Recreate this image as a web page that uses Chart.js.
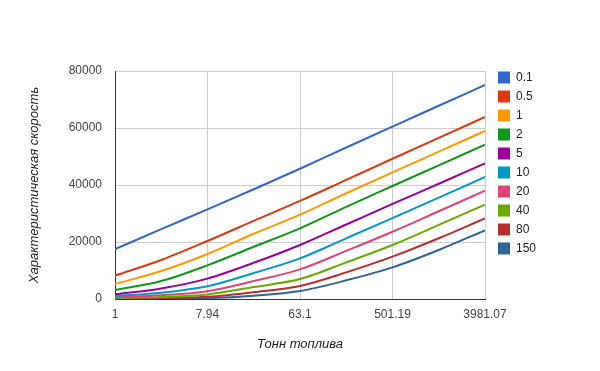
<!DOCTYPE html>
<html>
<head>
<meta charset="utf-8">
<script src="https://cdn.jsdelivr.net/npm/chart.js@4/dist/chart.umd.min.js"></script>
<style>
  html, body { margin: 0; padding: 0; background: #fff; }
  #wrap { width: 600px; height: 371px; position: relative; }
</style>
</head>
<body>
<div id="wrap"><canvas id="c" width="600" height="371"></canvas></div>
<script>
// Fuel mass, tonnes (logarithmic axis)
const fuelTonnes = [1, 2.818, 7.94, 22.4, 63.1, 177.8, 501.19, 1413, 3981.07];

// Payload mass series (legend labels)
const payloadLabels = ['0.1', '0.5', '1', '2', '5', '10', '20', '40', '80', '150'];

// Characteristic velocity for each payload
const v_0_1 = [17500, 24500, 31450, 38500, 45700, 53150, 60500, 67800, 75100];
const v_0_5 = [8200, 13700, 20350, 27400, 34400, 41800, 49200, 56550, 63850];
const v_1   = [5250, 9800, 15800, 22900, 29600, 37100, 44450, 51700, 58950];
const v_2   = [3150, 6300, 11800, 18350, 24800, 32350, 39650, 46900, 54150];
const v_5   = [1650, 3700, 7150, 12700, 18950, 26150, 33350, 40450, 47600];
const v_10  = [1050, 2200, 4450, 9100, 14250, 21300, 28400, 35600, 42800];
const v_20  = [600, 1300, 2750, 6300, 10400, 16900, 23600, 30800, 38000];
const v_40  = [350, 700, 1600, 4200, 7000, 12850, 18950, 26000, 33100];
const v_80  = [180, 330, 750, 2350, 4550, 9350, 14850, 21300, 28300];
const v_150 = [90, 150, 300, 1150, 2800, 6550, 11100, 17200, 24100];

// Axis tick labels
const xTickLabels = ['1', '7.94', '63.1', '501.19', '3981.07'];
const yTickValues = [0, 20000, 40000, 60000, 80000];

const seriesValues = [v_0_1, v_0_5, v_1, v_2, v_5, v_10, v_20, v_40, v_80, v_150];
const palette = ['#3366cc', '#dc3912', '#ff9900', '#109618', '#990099',
                 '#0099c6', '#dd4477', '#66aa00', '#b82e2e', '#316395'];

const datasets = payloadLabels.map((label, i) => ({
  label: label,
  data: fuelTonnes.map((x, j) => ({ x: x, y: seriesValues[i][j] })),
  borderColor: palette[i],
  backgroundColor: palette[i],
  borderWidth: 2,
  pointRadius: 0,
  fill: false,
  cubicInterpolationMode: 'monotone'
}));

// Legend at the right: square swatch + label per series
const sideLegend = {
  id: 'sideLegend',
  afterDraw(chart) {
    const ctx = chart.ctx;
    ctx.save();
    ctx.font = '12px "Liberation Sans", Arial, sans-serif';
    ctx.textBaseline = 'middle';
    ctx.textAlign = 'left';
    chart.data.datasets.forEach((ds, i) => {
      const top = 71.5 + i * 19;
      ctx.fillStyle = ds.borderColor;
      ctx.fillRect(498, top, 12, 12);
      ctx.fillStyle = '#222';
      ctx.fillText(ds.label, 516, top + 6.5);
    });
    ctx.restore();
  }
};

new Chart(document.getElementById('c'), {
  type: 'line',
  data: { datasets: datasets },
  plugins: [sideLegend],
  options: {
    responsive: false,
    animation: false,
    layout: { padding: { top: 71, right: 115, left: 0, bottom: 0 } },
    plugins: {
      legend: { display: false },
      tooltip: { enabled: false }
    },
    scales: {
      x: {
        type: 'logarithmic',
        min: 1,
        max: 3981.07,
        afterBuildTicks(scale) {
          scale.ticks = xTickLabels.map(t => ({ value: parseFloat(t) }));
        },
        afterFit(scale) { scale.height = 72; },
        ticks: {
          autoSkip: false,
          maxRotation: 0,
          padding: 8,
          color: '#444',
          font: { family: '"Liberation Sans", Arial, sans-serif', size: 12 },
          callback(value, index) { return xTickLabels[index]; }
        },
        grid: { color: '#cccccc', lineWidth: 1, drawTicks: false },
        border: { color: '#333333', width: 1 },
        title: {
          display: true,
          text: 'Тонн топлива',
          color: '#222',
          padding: { top: 0, bottom: 19 },
          font: { family: '"Liberation Sans", Arial, sans-serif', size: 13, style: 'italic' }
        }
      },
      y: {
        type: 'linear',
        min: 0,
        max: 80000,
        afterBuildTicks(scale) {
          scale.ticks = yTickValues.map(v => ({ value: v }));
        },
        afterFit(scale) { scale.width = 115; },
        ticks: {
          padding: 13,
          color: '#444',
          font: { family: '"Liberation Sans", Arial, sans-serif', size: 12 },
          callback(value) { return String(value); }
        },
        grid: { color: '#cccccc', lineWidth: 1, drawTicks: false },
        border: { color: '#333333', width: 1 },
        title: {
          display: true,
          text: 'Характеристическая скорость',
          color: '#222',
          padding: { top: 27, bottom: 0 },
          font: { family: '"Liberation Sans", Arial, sans-serif', size: 13, style: 'italic' }
        }
      }
    }
  }
});
</script>
</body>
</html>
